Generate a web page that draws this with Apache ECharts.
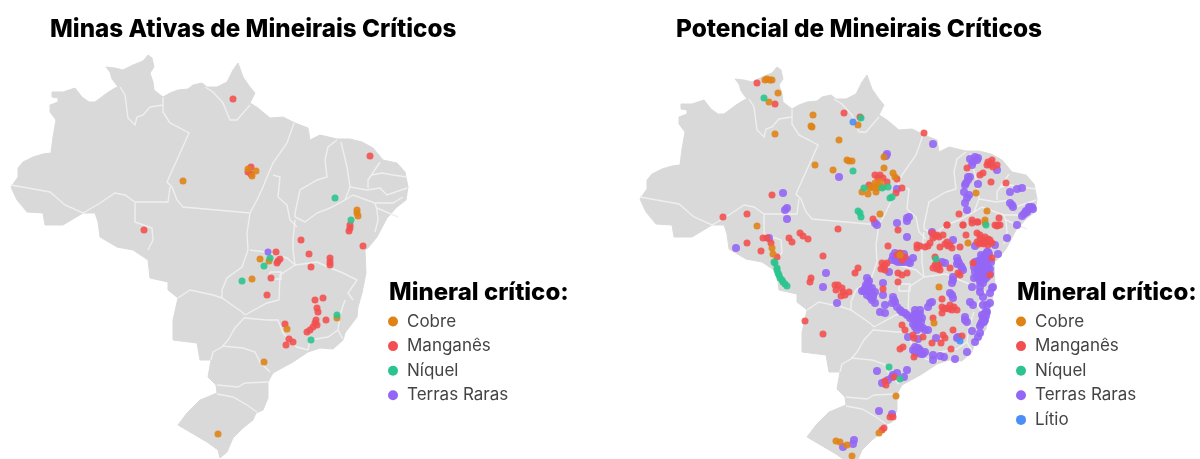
<!DOCTYPE html>
<html>
<head>
<meta charset="utf-8">
<script src="https://cdn.jsdelivr.net/npm/echarts@6/dist/echarts.min.js"></script>
<style>
html, body { margin: 0; padding: 0; background: #fff; overflow: hidden; }
#chart { width: 1200px; height: 459px; filter: blur(0.7px); }
</style>
</head>
<body>
<div id="chart"></div>
<script>
// contorno do pais (lon, lat)
var contorno = [[-74,-7.7],[-73.3,-6.7],[-73.3,-5.8],[-72.8,-5.2],[-71.8,-4.7],[-70.8,-4.4],[-70,-4.3],[-69.8,-2.7],[-69.5,-1],[-70.1,-0.2],[-70.1,0.5],[-69.3,0.8],[-69.3,1.2],[-69.9,1.3],[-69.9,1.8],[-68.8,1.8],[-67.6,2.2],[-66.9,1.3],[-66.2,0.8],[-65.6,0.8],[-64.4,1.7],[-63.6,2.2],[-63.3,2.3],[-63.9,3.1],[-64.1,3.8],[-64.5,4.3],[-63.6,4.2],[-62.8,4],[-61.8,4.5],[-60.8,4.9],[-60.3,5.5],[-59.9,5.2],[-59.7,4.3],[-60.1,3.7],[-59.8,2.8],[-59.7,2],[-58.8,1.3],[-58.1,1.7],[-57.3,2],[-56.3,2.1],[-55.8,2.5],[-54.9,2.7],[-54.4,2.3],[-53.4,2.3],[-52.4,2.8],[-51.8,4],[-51.3,4.7],[-50.8,3.3],[-50.1,2.3],[-49.6,1.7],[-50.1,0.7],[-49.3,0.2],[-48.1,-0.8],[-46.8,-0.7],[-45.6,-1.3],[-44.3,-1.8],[-44.1,-3],[-43.1,-2.5],[-41.4,-2.9],[-40.1,-2.9],[-38.9,-3.2],[-37.8,-3.8],[-36.8,-5],[-35.4,-5.3],[-34.6,-6.2],[-34.3,-7.7],[-34.5,-9],[-35.4,-9.7],[-36.4,-10.8],[-37.4,-12.7],[-38.3,-13.8],[-38.6,-14],[-38.5,-16.3],[-38.9,-18.3],[-39.3,-19.7],[-39.4,-20.7],[-40.6,-22.3],[-40.8,-23],[-41.8,-23.9],[-43.1,-23.8],[-44.3,-24.2],[-45.8,-25.2],[-47.8,-26.3],[-48.3,-27.2],[-48.3,-28.8],[-48.8,-30],[-49.5,-30.3],[-49.8,-31],[-50.8,-31.8],[-51.8,-32.8],[-52.4,-34.2],[-53.1,-34.8],[-53.3,-34],[-54.4,-33.2],[-55.6,-32.5],[-57.3,-31.5],[-56.4,-30.3],[-55.1,-29],[-53.4,-28.3],[-53.5,-27.5],[-54.3,-26.7],[-54,-25],[-55.1,-25],[-55.4,-23.3],[-57.8,-23],[-57.8,-21],[-57.3,-18.8],[-58.3,-18],[-58.3,-17.2],[-60.1,-16.8],[-60.3,-15],[-61.8,-14],[-63.4,-13.7],[-65.1,-12.7],[-65.3,-11.2],[-65.6,-10.3],[-66.8,-10.3],[-68.8,-11.5],[-70.6,-11.5],[-70.8,-10.3],[-72.4,-10.2],[-73.4,-9],[-74,-7.7]];

// divisas entre estados
var divisas = [
    [[-74,-7.5],[-70.1,-8.2],[-68.6,-9.5],[-66.8,-10.3],[-66.6,-10.2],[-65.1,-9.3],[-63.6,-8.3],[-62.6,-8.5],[-61.6,-9.2],[-58.3,-9.2],[-58.1,-7.7]],
    [[-61.6,-9.3],[-61.6,-11.2],[-59.9,-11.8],[-59.8,-13],[-60.3,-14]],
    [[-58.8,1.3],[-58.8,-0.2],[-58.1,-1.3],[-57.1,-1.8],[-56.2,-2.3],[-58.4,-7.2],[-57.9,-7.7],[-57.4,-9],[-56.8,-9.7],[-53.4,-10],[-50.1,-10.3]],
    [[-63.1,2.3],[-62.6,1.5],[-62.3,-0.8],[-61.6,-1.5],[-61.4,-0.7],[-60.8,-0.5],[-60.1,0.3],[-58.8,0.5]],
    [[-54.6,2.3],[-53.8,1.8],[-52.8,0.7],[-52.1,-1],[-51.4,-1],[-50.1,0.5]],
    [[-45.7,-1.3],[-46.4,-3.3],[-47.8,-5.3],[-48.4,-6.7],[-48.8,-7.7],[-49.4,-9],[-50.1,-10.3],[-50.4,-12.3],[-50.3,-14],[-50.9,-15.7],[-52.4,-16.8],[-52.9,-18],[-52.9,-18.8]],
    [[-57.3,-18.8],[-56.1,-18],[-53.8,-18.5],[-52.9,-18.8],[-50.9,-20.2],[-50.6,-20.5]],
    [[-50.6,-20.7],[-51.6,-21.8],[-52.3,-23],[-52.9,-23.7],[-53.8,-24.2],[-54,-25]],
    [[-52.9,-23.6],[-50.8,-23.8],[-49.6,-24.2],[-49.1,-25.2],[-48.1,-26.2]],
    [[-53.4,-27.5],[-51.3,-27.7],[-50.6,-27.3],[-48.3,-27.2]],
    [[-53.4,-28.4],[-51.8,-28.7],[-50.4,-29.5],[-49.4,-30.2]],
    [[-47.8,-6.5],[-47.1,-6.7],[-47.3,-8.7],[-46.4,-9.5],[-46.1,-11],[-45.4,-11.7]],
    [[-41.4,-3],[-42.3,-3.7],[-42.6,-5],[-42.4,-6.7],[-43.4,-7],[-45.1,-8],[-45.6,-10.3],[-45.6,-10.7]],
    [[-41,-3.2],[-40.4,-5.7],[-40.1,-7.7],[-40.6,-9]],
    [[-45.6,-10.7],[-44.6,-11.2],[-43.4,-10.3],[-42.1,-9.8],[-40.6,-9],[-39.8,-8.5],[-37.6,-9.3],[-37.4,-10],[-37.3,-11],[-37.6,-12.2]],
    [[-37.1,-5.2],[-38.3,-7],[-38.3,-7.8]],
    [[-37.9,-6.5],[-36.9,-6.3],[-35.8,-6.5],[-34.4,-6.7]],
    [[-40.1,-7.7],[-38.4,-8],[-37.1,-7.8],[-36.4,-8.5],[-34.4,-7.8]],
    [[-37.6,-9.3],[-35.8,-9.3],[-34.8,-8.7]],
    [[-37.4,-9.8],[-35.3,-10.7]],
    [[-50.1,-14],[-48.6,-14.2],[-46.4,-14.8],[-45.6,-15.5]],
    [[-45.6,-11],[-45.8,-13],[-45.8,-14],[-45.6,-15.5],[-47.1,-16.5],[-47.2,-19],[-48.4,-19.3],[-50.6,-20.5]],
    [[-45.6,-15.5],[-43.4,-15.2],[-42.3,-15.7],[-40.8,-16.3],[-39.4,-17],[-40.3,-18.3],[-39.8,-19]],
    [[-40.6,-19],[-41.1,-20.5],[-41.3,-22],[-40.8,-22.9]],
    [[-41.3,-22],[-42.3,-22.7],[-44.1,-23],[-44.3,-24]],
    [[-50.6,-20.8],[-48.4,-21],[-47.3,-21],[-46.8,-22.3],[-45.4,-23.7],[-44.3,-24]],
    [[-48.1,-16.2],[-47,-16.2],[-47,-16.9],[-48.1,-16.9],[-48.1,-16.2]]
];

var categorias = ['Cobre', 'Manganês', 'Níquel', 'Terras Raras', 'Lítio'];
var cores = ['#DF8316', '#F25050', '#2BC48E', '#9366F5', '#4A8EF7'];

// minas ativas
var minasCobre = [[-50.3,-5.9],[-49.9,-6.6],[-49.5,-6.1],[-56.8,-7.1],[-39.4,-10],[-39.4,-10.3],[-39.3,-10.6],[-49.1,-14.9],[-48.2,-15.1],[-49.9,-16.9],[-46.4,-21.9],[-41.4,-20.8],[-48.7,-25.2],[-53.3,-32.4]];
var minasManganes = [[-51.8,1.1],[-50,-5.7],[-50.3,-6.2],[-50,-6.4],[-38.1,-4.6],[-60.7,-12],[-45,-13],[-40.1,-11.5],[-40.1,-11.8],[-40.2,-12.1],[-38.8,-13.6],[-47.5,-14.2],[-47.1,-14.9],[-47.3,-15.1],[-47.4,-15.3],[-44.2,-14.4],[-44,-15.7],[-42.1,-14.8],[-42.1,-15.2],[-42.1,-15.5],[-48,-16.8],[-48.4,-18.5],[-43.6,-19],[-42.8,-18.8],[-43.4,-19.8],[-43.3,-20.2],[-43.5,-21],[-43.6,-21.3],[-43.4,-21.5],[-43.8,-21.7],[-44.1,-22],[-44.4,-22.2],[-42.5,-21],[-46.6,-21.4],[-46.2,-22.9],[-45.8,-23.2],[-46.5,-23.5]];
var minasNiquel = [[-41.6,-8.8],[-40,-11],[-48.1,-14.8],[-48.7,-15.6],[-50.9,-17.1],[-41.4,-20.5],[-44,-23]];
var minasTerras = [[-48.3,-14.2]];

// potencial
var potCobre = [[-61.5,4.2],[-61.3,4.3],[-61,4.2],[-60.8,4.2],[-60.2,2.9],[-61.1,2],[-60.5,-1.2],[-56.7,0.7],[-56.9,-0.4],[-56.8,-0.5],[-54.1,-1.8],[-52.2,-0.3],[-53.3,-3.8],[-53.1,-3.9],[-52.8,-3.9],[-56.5,-4.3],[-54.7,-4.8],[-49.6,-3.5],[-49.6,-4.6],[-48.7,-5.1],[-48.5,-5.5],[-50.5,-6.1],[-50.2,-6.3],[-50.7,-6.5],[-50.3,-6.6],[-50,-6],[-51,-6.6],[-50.4,-7],[-51.8,-7],[-51.2,-7.2],[-49.7,-6.5],[-50,-9.2],[-62.3,-10.4],[-40.4,-7.1],[-39.3,-8.9],[-39.5,-9.8],[-39.5,-10.1],[-41.2,-12.1],[-60.8,-12.6],[-60.7,-13.2],[-48,-13.3],[-44.1,-16.5],[-44.6,-20.1],[-48.4,-27.4],[-50.1,-31.1],[-54.4,-31.9],[-54,-32],[-53.3,-32.3],[-52.8,-33.4]];
var potManganes = [[-62.3,3.9],[-60.5,1.8],[-53.6,0.9],[-52,0.5],[-45.6,-1.1],[-39.2,-4],[-38.8,-3.8],[-39,-4.3],[-38.9,-4.1],[-38.7,-4.5],[-38.3,-4.3],[-39.3,-4.3],[-41.3,-4.6],[-40,-5.3],[-39.7,-5.1],[-38.9,-6],[-37.4,-6.1],[-50.5,-5.3],[-50,-5.3],[-49.7,-5.6],[-49.3,-6],[-51.1,-6.3],[-50.2,-5.6],[-47.8,-6.6],[-48.3,-5.7],[-48.4,-7.1],[-60.8,-7.3],[-65.7,-9.5],[-63.3,-9.2],[-63.3,-12.1],[-61.9,-12.9],[-61.7,-11.6],[-61.3,-11.6],[-60.9,-12.1],[-60.3,-13.5],[-59.1,-11.6],[-58.8,-12],[-58,-11.1],[-57.7,-11.4],[-57.2,-11.7],[-54.2,-10.7],[-55.7,-13.4],[-50.7,-9.7],[-49.2,-12.4],[-42.1,-9.2],[-43.3,-10.3],[-40.8,-9.8],[-41.7,-10.3],[-40.2,-10],[-40.8,-10.1],[-38.1,-9.6],[-38.3,-10.4],[-38,-10.3],[-52.2,-14.6],[-52.5,-15.1],[-56.9,-15.6],[-57,-16],[-57.5,-19.9],[-55.7,-21.2],[-54.5,-16.3],[-54.2,-16.3],[-54.4,-16.8],[-53.8,-16.6],[-53.7,-17],[-53.5,-17.3],[-53.1,-17],[-53.9,-17.4],[-49.8,-14.1],[-49.7,-14.5],[-49.3,-14.1],[-49.5,-14.3],[-49.9,-14.7],[-49.5,-14.8],[-48.2,-15.1],[-47.8,-15.3],[-47.3,-15.1],[-48.2,-16],[-48,-13.1],[-48.3,-13.3],[-47.5,-13.5],[-47.8,-13.8],[-49.7,-16.7],[-46.3,-12.3],[-45.5,-12.5],[-44.8,-11.1],[-44.3,-11.3],[-43.7,-11.3],[-45,-12.1],[-44.7,-11.6],[-44.5,-11.4],[-44.1,-11.5],[-43.3,-12],[-43,-12.3],[-42.8,-12.6],[-43.5,-12.2],[-43.2,-12.4],[-45.2,-12.4],[-46,-12.4],[-44,-12.5],[-42,-12.5],[-46.3,-12.6],[-43.3,-10.3],[-41.7,-10.3],[-41.4,-11.3],[-40.3,-10],[-38.5,-10.3],[-38.2,-10.3],[-48.2,-10.8],[-40.3,-11.1],[-40,-11.6],[-40,-11.3],[-39.5,-11.5],[-39.7,-11.8],[-39.3,-12],[-39,-11.8],[-39.2,-11.7],[-40.3,-12],[-39.8,-12.1],[-39.6,-12.2],[-40.1,-12.2],[-39.2,-12.3],[-38.8,-12.1],[-44.5,-13.5],[-44.7,-14.6],[-44.3,-14.1],[-44,-14.8],[-44.2,-14.5],[-44.3,-14.7],[-44.5,-14.3],[-44.1,-14.4],[-43,-14.6],[-42,-15.3],[-42.2,-15.1],[-40.7,-14.1],[-38.8,-13.6],[-39,-15.3],[-43.8,-17.7],[-43.8,-18.5],[-43.8,-19.1],[-43.3,-18.6],[-43,-18.3],[-42.8,-18.8],[-42.3,-18.8],[-43.6,-18.7],[-42.6,-18.5],[-43.1,-18.7],[-44.7,-19.6],[-42.7,-20.8],[-43.7,-21.3],[-43.5,-21.6],[-43.9,-22.1],[-44.8,-22.1],[-42.9,-22.7],[-46.7,-21.3],[-46.6,-21.6],[-45.7,-21.5],[-47.8,-20.3],[-47.5,-20.8],[-48,-22.7],[-47.7,-22.5],[-46.6,-23.5],[-41.8,-21.4],[-49.5,-25.9],[-49.4,-26.3],[-48.6,-25.5],[-49,-29.5],[-48.7,-29.5],[-49.8,-30.8],[-49.6,-30.6]];
var potNiquel = [[-61.6,2.4],[-51.9,0.4],[-52.7,-4.9],[-51.6,-6.6],[-49.8,-6.6],[-49.2,-6.5],[-49,-7.6],[-48.8,-7.5],[-52.2,-8.9],[-52,-9.1],[-51.9,-9.5],[-39.4,-10.3],[-60.6,-14],[-60.5,-14.1],[-60.3,-14.6],[-60.3,-14.8],[-60.2,-15.1],[-60.1,-15.3],[-60,-15.6],[-59.8,-15.8],[-59.7,-16],[-59.5,-16.2],[-59.3,-16.4],[-49.1,-24.5],[-48,-25.7],[-44.4,-13.7]];
var potTerras = [[-49.3,-3.2],[-49.4,-3.4],[-44.7,-2.2],[-41,-3.7],[-40.5,-3.5],[-40.2,-3.6],[-40.7,-4],[-40.3,-3.8],[-40.8,-4.3],[-38.3,-4.8],[-41.2,-5.5],[-41,-5.5],[-41.2,-5.8],[-41.4,-6.1],[-41.5,-6.3],[-40.2,-6.2],[-41.6,-7],[-41.1,-7.3],[-41.3,-7.6],[-41.5,-8.1],[-41.3,-8.8],[-37,-7],[-36.3,-6.7],[-35.8,-6.6],[-36.8,-8.3],[-36.7,-8.5],[-37,-8.1],[-34.8,-8.5],[-35.2,-8.8],[-35.5,-9.1],[-35.8,-9.4],[-34.7,-8.7],[-35,-8.6],[-35.4,-8.9],[-35.1,-8.5],[-35.3,-9],[-35.6,-9.2],[-36.3,-10.3],[-37.3,-11.6],[-54.1,-5.5],[-48.3,-6.7],[-59.7,-7.1],[-59.5,-8.8],[-59.3,-8.6],[-59.3,-9.7],[-61.1,-11.6],[-64.4,-12.6],[-50.5,-10.1],[-50.3,-10.3],[-48.3,-10.1],[-47.3,-9.6],[-47.1,-9.5],[-47.3,-9.9],[-47.3,-11.5],[-44.8,-11],[-42.7,-11.8],[-38.2,-13.2],[-38.5,-12.3],[-39.3,-13],[-39.7,-13.5],[-40,-14],[-39.5,-14],[-40.2,-14.5],[-39.7,-14.5],[-39.2,-14.5],[-40,-15],[-39.5,-15],[-40.3,-15.5],[-39.8,-15.5],[-39.3,-15.5],[-40,-16],[-39.7,-16.1],[-39.5,-13.3],[-39.4,-13.5],[-39.9,-13.8],[-39.2,-13.8],[-40.1,-14.3],[-39.4,-14.3],[-39.8,-14.8],[-39.3,-14.8],[-40.2,-14.8],[-40.1,-15.3],[-39.6,-15.3],[-39.9,-15.8],[-39.5,-15.7],[-40.2,-13.9],[-39.9,-13.3],[-39.1,-13.2],[-40.6,-14.5],[-40.5,-15],[-38.9,-14],[-39,-14.7],[-39,-15.2],[-40.5,-14],[-40.6,-15.6],[-39.2,-13],[-40.5,-12.4],[-42.3,-13.6],[-42.1,-14.1],[-41.8,-14.6],[-41.7,-14.8],[-42.2,-13.9],[-41.9,-14.4],[-42.3,-14.2],[-43.8,-14],[-43.5,-14.1],[-42.7,-15.5],[-42.8,-16.1],[-43,-17.1],[-42.7,-17.6],[-42.8,-17.3],[-42.7,-15.8],[-40.8,-16.5],[-40,-16.5],[-39.7,-17.5],[-38.8,-16.6],[-38.7,-16.5],[-39,-17.1],[-39.3,-18.3],[-39,-18.1],[-39.7,-18.3],[-41,-18],[-40.7,-18.3],[-40,-17],[-39.5,-19.1],[-39.7,-19.5],[-39.8,-20],[-40,-20.4],[-39.3,-19],[-39.5,-19.8],[-39.6,-19.3],[-39.4,-19.4],[-39.7,-19.8],[-39.9,-20.2],[-39.6,-20],[-39.4,-19],[-39.8,-19.3],[-41.5,-19.5],[-41.3,-20],[-41.5,-19.8],[-40.8,-20.9],[-40,-21.1],[-40.2,-21.5],[-40.5,-22],[-41.3,-23],[-42.3,-21.6],[-42.5,-23.7],[-45,-18.1],[-44.8,-18],[-45.2,-18.5],[-46.5,-18.8],[-46,-18.8],[-46.2,-19.3],[-45.8,-19.6],[-46.3,-19.8],[-46.7,-19.6],[-46.5,-20.5],[-46,-20.5],[-45.7,-20.6],[-45.2,-20.8],[-46.3,-20.8],[-46.4,-19.2],[-46.1,-19.7],[-46,-19.2],[-46.5,-20],[-46.2,-20.2],[-45.9,-20],[-45.5,-20.8],[-46.7,-20.2],[-46.6,-19.3],[-47,-19.6],[-48.7,-17.5],[-48.5,-18],[-48,-18.8],[-47.5,-19.1],[-48.8,-18.1],[-48.6,-17.8],[-48.3,-18.5],[-47.8,-19],[-47.3,-19.3],[-49.5,-18.3],[-50,-19],[-49.5,-19.1],[-49.7,-16.1],[-49.7,-17.3],[-49.1,-15],[-51.3,-15.6],[-51.2,-16.1],[-51.5,-16.6],[-51.8,-16.9],[-50.8,-16.6],[-51,-17.1],[-50.5,-17],[-50.8,-17.8],[-50.5,-18.1],[-51.3,-17.3],[-51.1,-15.9],[-51.4,-16.3],[-51.1,-16.5],[-50.9,-16.9],[-51.3,-16.9],[-51.6,-16.9],[-50.7,-17.3],[-51,-17.5],[-50.7,-17.5],[-55.7,-16.5],[-54.3,-18.1],[-55.4,-15.1],[-48.5,-13.1],[-48.8,-13.8],[-48.2,-14],[-47.3,-13.8],[-46.7,-13.6],[-47,-14.1],[-48.3,-13.5],[-48.5,-13.6],[-48.4,-13.9],[-47.9,-14],[-47.6,-14],[-47.2,-14],[-48.1,-13.2],[-47.6,-13.2],[-48.7,-13.4],[-46.5,-22.5],[-46,-23],[-45.5,-23],[-46.3,-23.1],[-46.7,-22.8],[-46.2,-22.6],[-46,-22.8],[-46.3,-22.9],[-45.7,-23.2],[-46.5,-23],[-45.9,-23.2],[-44.7,-23.3],[-44,-23.4],[-43.6,-23.5],[-44.7,-23.8],[-47.2,-21.5],[-46.2,-21.7],[-44.4,-21.6],[-42.2,-21.5],[-50.3,-24.9],[-49.8,-26.1],[-49.2,-25.8],[-48.7,-25.3],[-48.3,-25.1],[-48.8,-25.5],[-47.3,-24.8],[-47.6,-25.5],[-50.1,-28.9],[-48.8,-29.2],[-52.6,-31.8],[-52.7,-32.2],[-53.7,-32.5]];
var potLitio = [[-52.7,0],[-42,-21.9]];

var fonteTitulo = 'Inter, "Open Sans", sans-serif';
var fonteTexto = 'Inter, "Open Sans", sans-serif';

echarts.registerMap('brasil', {
    type: 'FeatureCollection',
    features: [{
        type: 'Feature',
        properties: { name: 'Brasil' },
        geometry: { type: 'Polygon', coordinates: [contorno] }
    }]
});

function geoMapa(left, top) {
    return {
        map: 'brasil',
        silent: true,
        aspectScale: 1,
        boundingCoords: [[-75.1, 11], [-33.1, -34.9]],
        left: left,
        top: top,
        width: 420,
        height: 459,
        label: { show: false },
        itemStyle: { areaColor: '#D9D9D9', borderColor: '#D9D9D9', borderWidth: 1 }
    };
}

function serieDivisas(idx) {
    return {
        type: 'lines',
        coordinateSystem: 'geo',
        geoIndex: idx,
        polyline: true,
        silent: true,
        z: 3,
        lineStyle: { color: '#efefef', width: 1.4, opacity: 1 },
        data: divisas.map(function (d) { return { coords: d }; })
    };
}

function seriePontos(idx, i, valores, tamanho) {
    return {
        name: categorias[i],
        type: 'scatter',
        coordinateSystem: 'geo',
        geoIndex: idx,
        symbolSize: tamanho,
        silent: true,
        z: 4,
        itemStyle: { color: cores[i], opacity: 0.9 },
        data: valores
    };
}

function legenda(left, nomes) {
    return {
        left: left,
        top: 313,
        padding: 0,
        orient: 'vertical',
        icon: 'circle',
        itemWidth: 10,
        itemHeight: 10,
        itemGap: 7.6,
        selectedMode: false,
        data: nomes.map(function (n) {
            return { name: n, itemStyle: { opacity: 1 } };
        }),
        textStyle: { fontFamily: fonteTexto, fontWeight: 400, fontSize: 17, color: '#444', padding: [0, 0, 0, 4] }
    };
}

function titulo(texto, left, top, tamanho) {
    return {
        text: texto,
        left: left,
        top: top,
        padding: 0,
        textStyle: { fontFamily: fonteTitulo, fontWeight: 800, fontSize: tamanho, color: '#000' }
    };
}

var chart = echarts.init(document.getElementById('chart'), null, { renderer: 'canvas' });
chart.setOption({
    animation: false,
    title: [
        titulo('Minas Ativas de Mineirais Críticos', 50, 18, 24.2),
        titulo('Potencial de Mineirais Críticos', 676, 18, 24.4),
        titulo('Mineral crítico:', 389, 281, 24),
        titulo('Mineral crítico:', 1017, 281, 24)
    ],
    legend: [legenda(388, categorias.slice(0, 4)), legenda(1016, categorias)],
    geo: [geoMapa(0, 0), geoMapa(629, 12)],
    series: [
        serieDivisas(0),
        serieDivisas(1),
        seriePontos(0, 3, minasTerras, 7),
        seriePontos(0, 1, minasManganes, 7),
        seriePontos(0, 0, minasCobre, 7),
        seriePontos(0, 2, minasNiquel, 7),
        seriePontos(1, 3, potTerras, 8),
        seriePontos(1, 1, potManganes, 7),
        seriePontos(1, 0, potCobre, 7),
        seriePontos(1, 2, potNiquel, 7),
        seriePontos(1, 4, potLitio, 7)
    ]
});
</script>
</body>
</html>
